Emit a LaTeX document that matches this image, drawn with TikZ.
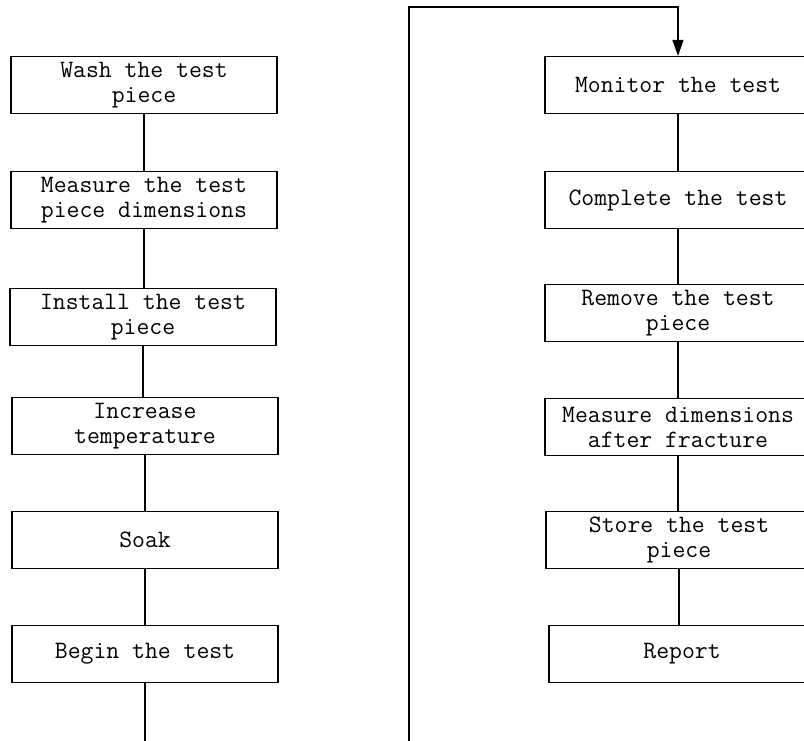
\documentclass[tikz,border=0pt]{standalone}
\usepackage{fontspec}
\usetikzlibrary{arrows.meta}
\tikzset{
  stepbox/.style={draw, line width=1.2pt, minimum width=266pt, minimum height=57pt,
    inner sep=0pt, align=center, font=\ttfamily\fontsize{25}{25}\selectfont},
  link/.style={line width=1.2pt},
  loopline/.style={line width=1.2pt, -{Triangle[length=16pt,width=11pt]}}
}
\begin{document}
\begin{tikzpicture}[x=1pt,y=-1pt]
\clip (0,0) rectangle (804,740);
\fill[white] (0,0) rectangle (804,740);
% left column
\node[stepbox] (wash)    at (144,85)  {Wash the test\\piece};
\node[stepbox] (measure) at (144,200) {Measure the test\\piece dimensions};
\node[stepbox] (install) at (143,317) {Install the test\\piece};
\node[stepbox] (incr)    at (145,426) {Increase\\temperature};
\node[stepbox] (soak)    at (145,540) {Soak};
\node[stepbox] (begin)   at (145,654) {Begin the test};
\coordinate (lend) at (145,741);
% right column
\node[stepbox] (monitor)  at (678,85)  {Monitor the test};
\node[stepbox] (complete) at (678,200) {Complete the test};
\node[stepbox] (remove)   at (678,313) {Remove the test\\piece};
\node[stepbox] (mdim)     at (678,427) {Measure dimensions\\after fracture};
\node[stepbox] (store)    at (679,540) {Store the test\\piece};
\node[stepbox] (report)   at (682,654) {Report};
\coordinate (rb) at (409,741);
\coordinate (rt) at (409,7);
% connectors
\draw[link] (wash.south) -- (wash.south |- measure.north);
\draw[link] (measure.south) -- (measure.south |- install.north);
\draw[link] (install.south) -- (install.south |- incr.north);
\draw[link] (incr.south) -- (incr.south |- soak.north);
\draw[link] (soak) -- (begin);
\draw[link] (begin.south) -- (lend);
\draw[link] (monitor) -- (complete);
\draw[link] (complete) -- (remove);
\draw[link] (remove) -- (mdim);
\draw[link] (mdim.south) -- (mdim.south |- store.north);
\draw[link] (store.south) -- (store.south |- report.north);
\draw[loopline] (rb) -- (rt) -| (monitor.north);
\end{tikzpicture}
\end{document}
